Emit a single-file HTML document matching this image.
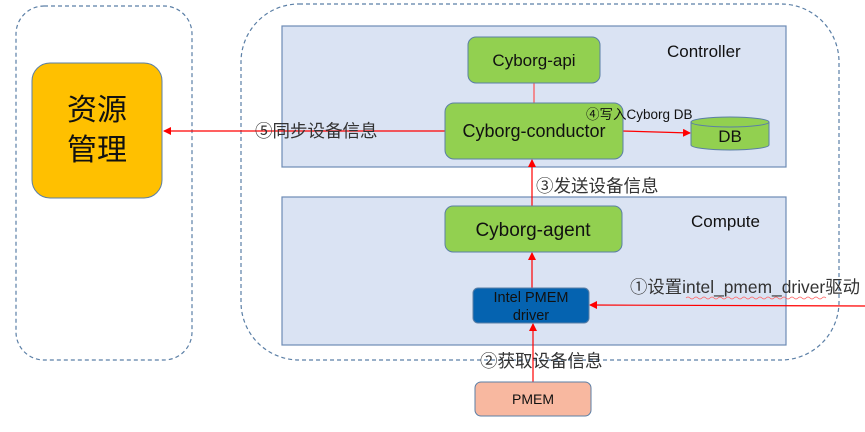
<!DOCTYPE html>
<html><head><meta charset="utf-8"><style>
html,body{margin:0;padding:0;background:#fff;}
svg{display:block;}
text{font-family:"Liberation Sans","Noto Sans CJK SC",sans-serif;}
</style></head><body>
<svg width="865" height="432" viewBox="0 0 865 432" xmlns="http://www.w3.org/2000/svg">
<defs>
<marker id="ar" markerWidth="8" markerHeight="8" refX="7" refY="4" orient="auto" markerUnits="userSpaceOnUse">
<path d="M0,0 L8,4 L0,8 z" fill="#ff0000"/></marker>
</defs>
<rect x="16" y="6" width="176" height="354" rx="28" fill="none" stroke="#5b7fa6" stroke-width="1.2" stroke-dasharray="4,3"/>
<rect x="241" y="4" width="598" height="356" rx="58" fill="none" stroke="#5b7fa6" stroke-width="1.2" stroke-dasharray="4,3"/>
<rect x="282" y="26" width="504" height="141" fill="#dae3f3" stroke="#6d8bb5" stroke-width="1.2"/>
<rect x="282" y="197" width="504" height="148" fill="#dae3f3" stroke="#6d8bb5" stroke-width="1.2"/>
<text x="667" y="57" font-size="17" fill="#111">Controller</text>
<text x="691" y="227" font-size="17" fill="#111">Compute</text>
<rect x="32" y="63" width="130" height="135" rx="18" fill="#ffc000" stroke="#5b7fa6" stroke-width="1"/>
<text x="97" y="120" font-size="30" text-anchor="middle" fill="#111" font-family="'Noto Serif CJK SC',serif">资源</text>
<text x="97" y="160" font-size="30" text-anchor="middle" fill="#111" font-family="'Noto Serif CJK SC',serif">管理</text>
<line x1="534" y1="83" x2="534" y2="103" stroke="#ff5050" stroke-width="1.2"/>
<line x1="445" y1="131" x2="164" y2="131" stroke="#ff0000" stroke-width="1.2" marker-end="url(#ar)"/>
<line x1="622" y1="131" x2="690" y2="133" stroke="#ff0000" stroke-width="1.2" marker-end="url(#ar)"/>
<line x1="532" y1="206" x2="532" y2="160" stroke="#ff0000" stroke-width="1.2" marker-end="url(#ar)"/>
<line x1="532" y1="288" x2="532" y2="253" stroke="#ff0000" stroke-width="1.2" marker-end="url(#ar)"/>
<line x1="533" y1="382" x2="533" y2="324" stroke="#ff0000" stroke-width="1.2" marker-end="url(#ar)"/>
<line x1="865" y1="306" x2="590" y2="305" stroke="#ff0000" stroke-width="1.2" marker-end="url(#ar)"/>
<rect x="468" y="37" width="132" height="46" rx="8" fill="#92d050" stroke="#5b7fa6" stroke-width="1"/>
<text x="534" y="66" font-size="17" text-anchor="middle" fill="#111">Cyborg-api</text>
<rect x="445" y="103" width="178" height="56" rx="9" fill="#92d050" stroke="#5b7fa6" stroke-width="1"/>
<text x="534" y="137" font-size="18" text-anchor="middle" fill="#111">Cyborg-conductor</text>
<rect x="445" y="206" width="177" height="46" rx="8" fill="#92d050" stroke="#5b7fa6" stroke-width="1"/>
<text x="533" y="236" font-size="19" text-anchor="middle" fill="#111">Cyborg-agent</text>
<path d="M691,122 L691,145 A39,5 0 0 0 769,145 L769,122" fill="#92d050" stroke="#5b7fa6" stroke-width="1"/>
<ellipse cx="730" cy="122" rx="39" ry="5" fill="#92d050" stroke="#5b7fa6" stroke-width="1"/>
<text x="730" y="142" font-size="17" text-anchor="middle" fill="#111">DB</text>
<rect x="473" y="288" width="116" height="35" rx="5" fill="#0563b0" stroke="#5b7fa6" stroke-width="1"/>
<text x="531" y="302" font-size="14.5" text-anchor="middle" fill="#111">Intel PMEM</text>
<text x="531" y="320" font-size="14.5" text-anchor="middle" fill="#111">driver</text>
<rect x="475" y="382" width="116" height="34" rx="6" fill="#f8b8a0" stroke="#5b7fa6" stroke-width="1"/>
<text x="533" y="404" font-size="14" text-anchor="middle" fill="#111">PMEM</text>
<text x="255" y="137" font-size="17.5" fill="#333">⑤同步设备信息</text>
<text x="586" y="119" font-size="13.5" fill="#111">④写入Cyborg DB</text>
<text x="536" y="192" font-size="17.5" fill="#333">③发送设备信息</text>
<text x="630" y="293" font-size="17.5" textLength="230" lengthAdjust="spacingAndGlyphs" fill="#333">①设置intel_pmem_driver驱动</text>
<path d="M686,298 q2,-2 4,0 t4,0 t4,0 t4,0 t4,0 t4,0 t4,0 t4,0 t4,0 t4,0 t4,0 t4,0 t4,0 t4,0 t4,0 t4,0 t4,0 t4,0 t4,0 t4,0 t4,0 t4,0 t4,0 t4,0 t4,0 t4,0 t4,0 t4,0 t4,0 t4,0 t4,0 t4,0 t4,0 t4,0 t4,0" fill="none" stroke="#ff6060" stroke-width="0.7"/>
<text x="480" y="367" font-size="17.5" fill="#333">②获取设备信息</text>
</svg>
</body></html>
